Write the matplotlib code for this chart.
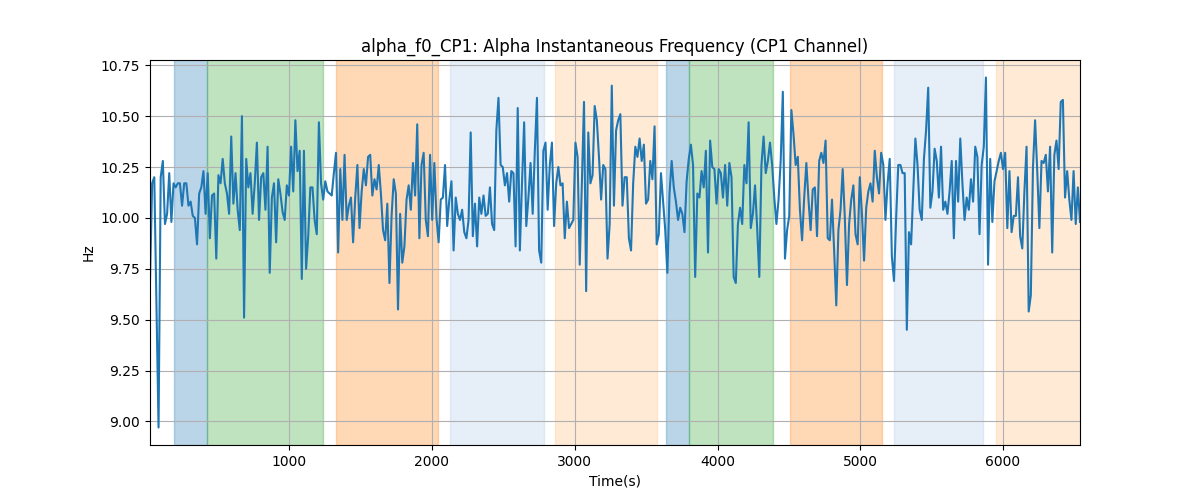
import numpy as np
import matplotlib
matplotlib.use("Agg")
import matplotlib.pyplot as plt

t_start = 25.0
t_end = 6539.0

freq_part1 = [9.69, 10.17, 10.20, 9.60, 8.97, 10.20, 10.28, 9.97, 10.02, 10.22, 9.98, 10.17, 10.15, 10.17, 10.17, 10.06, 10.17, 10.17, 10.06, 10.08, 10.01, 10.00, 9.87, 10.12, 10.15, 10.23, 10.02, 10.22, 9.90, 10.11, 10.12, 9.80, 10.21, 10.17, 10.29, 10.17, 10.12, 10.02, 10.40, 10.07, 10.22, 10.04, 9.94, 10.50, 9.51, 10.29, 10.15, 10.22, 10.02, 10.17, 10.37, 9.99, 10.20, 10.22, 10.04, 10.35, 9.73, 10.10, 10.17, 9.88, 10.19, 10.12, 10.03, 9.99, 10.16, 10.11, 10.35, 10.13, 10.48, 10.23, 10.33, 9.70, 10.33, 9.75, 9.91, 10.15, 10.15, 9.99, 9.92, 10.47, 10.17, 10.09, 10.18, 10.13, 10.12, 10.11, 10.22, 10.32, 9.83]
freq_part2 = [10.24, 9.99, 10.31, 9.99, 10.06, 10.10, 9.88, 10.10, 10.26, 9.95, 10.13, 10.24, 10.16, 10.30, 10.31, 10.11, 10.19, 10.14, 10.26, 10.12, 9.94, 9.89, 10.07, 9.68, 10.01, 10.19, 10.12, 9.55, 10.02, 9.78, 9.86, 10.09, 10.16, 10.04, 10.27, 10.11, 10.46, 9.90, 10.26, 10.32, 9.99, 9.91, 10.31, 9.99, 10.27, 10.00, 9.88, 10.09, 10.10, 10.26, 9.96, 10.09, 10.18, 9.84, 10.10, 10.02, 9.99, 10.04, 9.93, 9.90, 9.99, 10.42, 9.91, 10.07, 9.86, 10.10, 10.02, 10.11, 10.01, 10.02, 10.15, 9.97, 9.94, 10.43, 10.59, 10.26, 10.25, 10.16, 10.22, 10.08, 10.23, 10.22, 9.86, 10.54, 9.84]
freq_part3 = [10.17, 10.47, 9.96, 10.10, 10.27, 10.02, 10.33, 10.59, 9.84, 9.78, 10.33, 10.37, 10.04, 10.26, 10.37, 9.96, 10.17, 10.25, 10.16, 10.17, 9.90, 10.08, 9.95, 9.97, 9.99, 10.37, 10.30, 9.77, 10.17, 10.57, 9.64, 10.42, 10.17, 10.21, 10.55, 10.48, 10.30, 10.09, 10.26, 10.24, 9.80, 9.97, 10.65, 10.06, 10.43, 10.48, 10.51, 10.06, 10.20, 10.20, 9.90, 9.84, 10.17, 10.35, 10.30, 10.39, 10.28, 10.36, 10.07, 10.09, 10.28, 10.19, 10.45, 9.87, 9.92, 10.22, 10.08, 9.94, 9.73, 10.12, 10.28, 10.15, 10.08, 9.99, 10.05, 10.02, 9.93, 10.18, 10.29, 10.36, 10.26, 9.71, 10.12, 10.10]
freq_part4 = [10.23, 10.15, 10.33, 9.83, 10.38, 10.25, 10.24, 10.07, 10.24, 10.22, 10.10, 10.26, 10.06, 10.27, 10.20, 9.71, 9.68, 9.97, 10.05, 9.97, 10.26, 10.17, 10.47, 9.95, 10.02, 10.16, 9.95, 9.71, 10.26, 10.40, 10.22, 10.28, 10.37, 10.26, 10.10, 9.97, 10.09, 10.28, 10.62, 9.80, 9.94, 10.01, 10.53, 10.41, 10.26, 10.30, 10.04, 9.89, 10.10, 10.27, 10.09, 9.94, 10.14, 10.15, 9.91, 10.28, 10.32, 10.27, 10.38, 9.90, 9.89, 10.09, 9.84, 9.57, 9.94, 10.04, 10.24, 10.00, 9.67, 9.97, 10.09, 10.16, 9.92, 9.87, 10.20, 10.02, 9.79, 10.05, 10.13, 10.17, 10.08, 10.33, 10.20, 10.12]
freq_part5 = [10.32, 10.26, 9.99, 10.17, 10.29, 9.81, 9.69, 10.00, 10.26, 10.26, 10.22, 10.22, 9.45, 9.93, 9.87, 10.13, 10.39, 10.26, 10.04, 9.99, 10.29, 10.43, 10.64, 10.05, 10.13, 10.34, 10.28, 10.10, 10.35, 10.04, 10.08, 10.02, 10.13, 10.28, 9.90, 10.28, 10.08, 10.39, 10.17, 9.99, 10.10, 10.04, 10.19, 10.08, 10.35, 10.30, 9.92, 10.26, 10.35, 10.69, 9.77, 10.29, 9.98, 10.18, 10.23, 10.28, 10.32, 10.24, 10.32, 9.95, 10.23, 9.93, 10.01, 10.01, 10.20, 9.91, 9.85, 10.13, 10.35, 9.54, 9.62, 10.25, 10.48, 10.23, 9.95, 10.28, 10.27, 10.31, 10.13, 10.35, 9.83, 10.31, 10.38, 10.24, 10.57, 10.58, 10.10, 10.23, 10.09, 9.99, 10.23, 9.97, 10.15, 9.98]

span_starts = [190, 422, 1325, 2125, 2862, 3642, 3799, 4508, 5238, 5948]
span_ends = [422, 1237, 2042, 2783, 3573, 3799, 4392, 5153, 5861, 6600]
span_colors = ["#1f77b4", "#2ca02c", "#ff7f0e", "#aec7e8", "#ffbb78",
               "#1f77b4", "#2ca02c", "#ff7f0e", "#aec7e8", "#ffbb78"]

freq = np.array(freq_part1 + freq_part2 + freq_part3 + freq_part4 + freq_part5)
time = np.linspace(t_start, t_end, len(freq))

fig, ax = plt.subplots(figsize=(12, 5), dpi=100)
for s, e, c in zip(span_starts, span_ends, span_colors):
    ax.axvspan(s, e, color=c, alpha=0.3)
ax.plot(time, freq, color="#1f77b4", linewidth=1.5)
ax.set_xlim(time[0], time[-1])
ax.grid(True)
ax.set_title("alpha_f0_CP1: Alpha Instantaneous Frequency (CP1 Channel)")
ax.set_xlabel("Time(s)")
ax.set_ylabel("Hz")
fig.savefig("out.png")
